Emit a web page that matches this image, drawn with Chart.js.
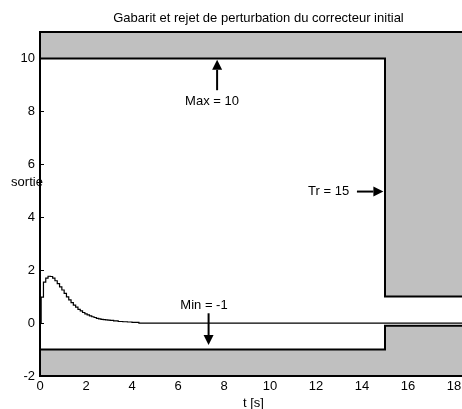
<!DOCTYPE html>
<html><head><meta charset="utf-8">
<script src="https://cdn.jsdelivr.net/npm/chart.js@4/dist/chart.umd.min.js"></script>
<style>html,body{margin:0;padding:0;background:#fff;overflow:hidden}#wrap{position:relative;width:477px;height:409px}</style>
</head><body><div id="wrap"><canvas id="c"></canvas></div>
<script>
// ---- data ----
const gabaritT   = [0, 15, 15, 19];
const gabaritMax = [10, 10, 1, 1];
const gabaritMin = [-1, -1, -0.1, -0.1];
const responseT = [0, 0.05, 0.15, 0.25, 0.35, 0.45, 0.55, 0.65, 0.75, 0.85, 0.95, 1.05, 1.15, 1.25, 1.35, 1.45, 1.55, 1.65, 1.75, 1.85, 1.95, 2.05, 2.15, 2.25, 2.35, 2.45, 2.55, 2.65, 2.75, 2.85, 2.95, 3.05, 3.2, 3.4, 3.6, 3.8, 4.0, 4.3, 19];
const responseY = [0, 0.98, 1.55, 1.70, 1.77, 1.76, 1.70, 1.60, 1.49, 1.37, 1.25, 1.12, 0.99, 0.88, 0.77, 0.68, 0.60, 0.52, 0.46, 0.40, 0.35, 0.31, 0.27, 0.24, 0.21, 0.18, 0.16, 0.14, 0.13, 0.12, 0.11, 0.10, 0.08, 0.06, 0.05, 0.04, 0.03, 0, 0];
const xTicks = [0, 2, 4, 6, 8, 10, 12, 14, 16, 18];
const yTicks = [-2, 0, 2, 4, 6, 8, 10];
const titleText = 'Gabarit et rejet de perturbation du correcteur initial';
const xLabel = 't [s]';
const yLabel = 'sortie';
const annotTexts = ['Max = 10', 'Min = -1', 'Tr = 15'];

// ---- annotation placement (data units) ----
const arrows = [
  {x0: 7.7,   y0: 8.8,  x1: 7.7,   y1: 9.95},
  {x0: 7.33,  y0: 0.37, x1: 7.33,  y1: -0.83},
  {x0: 13.78, y0: 4.97, x1: 14.93, y1: 4.97}
];
const textPos = [
  {x: 7.48, y: 8.37},
  {x: 7.13, y: 0.68},
  {x: 12.55, y: 4.97}
];

const FONT = '"Liberation Sans", Arial, sans-serif';
Chart.defaults.font.family = FONT;
Chart.defaults.font.size = 13;
Chart.defaults.color = '#000';

const toXY = (xs, ys) => xs.map((x, i) => ({x: x, y: ys[i]}));

const deco = {
  id: 'deco',
  beforeDatasetsDraw(chart) {
    const {ctx, chartArea: a, scales: {y}} = chart;
    ctx.save();
    ctx.strokeStyle = '#000';
    ctx.lineWidth = 1;
    yTicks.forEach(v => {
      const py = Math.round(y.getPixelForValue(v)) + 0.5;
      ctx.beginPath(); ctx.moveTo(a.left, py); ctx.lineTo(a.left + 4, py); ctx.stroke();
    });
    ctx.restore();
  },
  afterDatasetsDraw(chart) {
    const {ctx, chartArea: a, scales: {x, y}} = chart;
    ctx.save();
    // frame
    ctx.strokeStyle = '#000';
    ctx.lineWidth = 2;
    ctx.beginPath();
    ctx.moveTo(a.right + 5, a.top); ctx.lineTo(a.left, a.top);
    ctx.lineTo(a.left, a.bottom); ctx.lineTo(a.right + 5, a.bottom);
    ctx.stroke();
    // arrows
    arrows.forEach(ar => {
      const X0 = x.getPixelForValue(ar.x0), Y0 = y.getPixelForValue(ar.y0);
      const X1 = x.getPixelForValue(ar.x1), Y1 = y.getPixelForValue(ar.y1);
      const ang = Math.atan2(Y1 - Y0, X1 - X0);
      const L = 10, W = 5;
      const bx = X1 - L * Math.cos(ang), by = Y1 - L * Math.sin(ang);
      ctx.lineWidth = 2;
      ctx.beginPath(); ctx.moveTo(X0, Y0); ctx.lineTo(bx, by); ctx.stroke();
      ctx.fillStyle = '#000';
      ctx.beginPath();
      ctx.moveTo(X1, Y1);
      ctx.lineTo(bx + W * Math.sin(ang), by - W * Math.cos(ang));
      ctx.lineTo(bx - W * Math.sin(ang), by + W * Math.cos(ang));
      ctx.closePath(); ctx.fill();
    });
    // annotation texts
    ctx.font = '13px ' + FONT;
    ctx.fillStyle = '#000';
    ctx.textAlign = 'center';
    ctx.textBaseline = 'middle';
    textPos.forEach((p, i) => {
      ctx.fillText(annotTexts[i], x.getPixelForValue(p.x), y.getPixelForValue(p.y));
    });
    ctx.restore();
  },
  afterDraw(chart) {
    const {ctx, chartArea: a} = chart;
    ctx.save();
    ctx.font = '13px ' + FONT;
    ctx.fillStyle = '#000';
    ctx.textAlign = 'center';
    ctx.textBaseline = 'middle';
    ctx.fillText(titleText, 258.5, 18.5);
    ctx.fillText(xLabel, 253.5, a.bottom + 27.5);
    ctx.fillText(yLabel, 27, 182);
    ctx.restore();
  }
};

new Chart(document.getElementById('c'), {
  type: 'line',
  data: {
    datasets: [
      {
        label: 'sortie',
        data: toXY(responseT, responseY),
        borderColor: '#000', borderWidth: 1.2, pointRadius: 0,
        stepped: true, fill: false, order: 0
      },
      {
        label: 'max',
        data: toXY(gabaritT, gabaritMax),
        borderColor: '#000', borderWidth: 2, pointRadius: 0,
        backgroundColor: '#c0c0c0', fill: 'end', order: 1
      },
      {
        label: 'min',
        data: toXY(gabaritT, gabaritMin),
        borderColor: '#000', borderWidth: 2, pointRadius: 0,
        backgroundColor: '#c0c0c0', fill: 'start', order: 2
      }
    ]
  },
  options: {
    responsive: true,
    maintainAspectRatio: false,
    animation: false,
    layout: {padding: {top: 32, left: 0, right: 0, bottom: 0}},
    plugins: {legend: {display: false}, title: {display: false}, tooltip: {enabled: false}},
    scales: {
      x: {
        type: 'linear', min: 0, max: 19,
        grid: {display: false, drawTicks: false},
        border: {display: false},
        ticks: {padding: 3, maxRotation: 0, autoSkip: false},
        afterBuildTicks: s => { s.ticks = xTicks.map(v => ({value: v})); },
        afterFit: s => { s.height = 33; }
      },
      y: {
        type: 'linear', min: -2, max: 11,
        grid: {display: false, drawTicks: false},
        border: {display: false},
        ticks: {padding: 5, autoSkip: false},
        afterBuildTicks: s => { s.ticks = yTicks.map(v => ({value: v})); },
        afterFit: s => { s.width = 40; }
      }
    }
  },
  plugins: [deco]
});
</script>
</body></html>
